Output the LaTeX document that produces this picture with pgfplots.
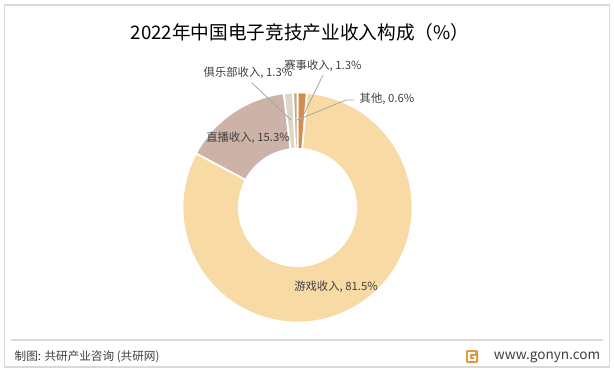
\documentclass[border=0pt]{standalone}
\usepackage{pgfplots}
\usepackage{pgfplotstable}
\pgfplotsset{compat=1.18}
\usepackage{fontspec}
\setmainfont{Noto Sans CJK SC}
\definecolor{cSaishi}{RGB}{214,139,78}
\definecolor{cYouxi}{RGB}{248,218,164}
\definecolor{cZhibo}{RGB}{205,178,167}
\definecolor{cJulebu}{RGB}{222,215,201}
\definecolor{cQita}{RGB}{196,168,140}
\definecolor{lbl}{RGB}{64,64,64}
\definecolor{leader}{RGB}{166,166,166}
\definecolor{frame}{RGB}{217,217,217}

\pgfplotstableread[col sep=comma]{
name,value
赛事收入,1.3
游戏收入,81.5
直播收入,15.3
俱乐部收入,1.3
其他,0.6
}\datatable

\begin{document}
\begin{tikzpicture}
\begin{axis}[
  x=0.75pt, y=0.75pt,
  xmin=0, xmax=614, ymin=0, ymax=372,
  scale only axis, hide axis, clip=false,
]
\fill[white] (axis cs:0,0) rectangle (axis cs:614,372);
\draw[frame, line width=0.9pt] (axis cs:4.5,5) rectangle (axis cs:609.5,367);
\draw[frame, line width=0.9pt] (axis cs:11,32) -- (axis cs:603,32);

\pgfplotsextra{
  \gdef\curang{90}
  \foreach \i/\c in {0/cSaishi,1/cYouxi,2/cZhibo,3/cJulebu,4/cQita}{
    \pgfplotstablegetelem{\i}{value}\of\datatable
    \pgfmathsetmacro\endang{\curang-\pgfplotsretval*3.6}
    \begin{scope}[shift={(axis cs:297.5,164.5)}]
      \fill[\c, draw=white, line width=1.3pt, line join=miter]
        (\curang:86.25pt) arc[start angle=\curang, end angle=\endang, radius=86.25pt]
        -- (\endang:44pt) arc[start angle=\endang, end angle=\curang, radius=44pt]
        -- cycle;
    \end{scope}
    \xdef\curang{\endang}
  }
}

% leader lines
\draw[leader, line width=0.6pt] (axis cs:252,289) -- (axis cs:291,252);
\draw[leader, line width=0.6pt] (axis cs:323,297) -- (axis cs:301,252);
\draw[leader, line width=0.6pt] (axis cs:354,272) -- (axis cs:346,272) -- (axis cs:297,252);

% labels
\node[lbl, font=\fontsize{8.5}{10}\selectfont] at (axis cs:336,85) {游戏收入, 81.5\%};
\node[lbl, font=\fontsize{8.5}{10}\selectfont] at (axis cs:248,234) {直播收入, 15.3\%};
\node[lbl, font=\fontsize{8.5}{10}\selectfont] at (axis cs:248,299) {俱乐部收入, 1.3\%};
\node[lbl, font=\fontsize{8.5}{10}\selectfont] at (axis cs:323,306) {赛事收入, 1.3\%};
\node[lbl, font=\fontsize{8.5}{10}\selectfont, anchor=west] at (axis cs:355,273) {其他, 0.6\%};

% title
\node[black, font=\fontsize{14}{16}\selectfont] at (axis cs:300,340) {2022年中国电子竞技产业收入构成（\%）};

% footer
\node[lbl, anchor=west, font=\fontsize{8.7}{10}\selectfont] at (axis cs:10,15) {制图: 共研产业咨询 (共研网)};
\node[lbl, anchor=east, font=\fontsize{10.2}{12}\selectfont] at (axis cs:605,15) {www.gonyn.com};
\fill[cSaishi!85!yellow, rounded corners=1pt] (axis cs:466,9) rectangle (axis cs:478,22);
\draw[white, line width=1.2pt] (axis cs:475,19) -- (axis cs:469,19) -- (axis cs:469,12) -- (axis cs:475,12) -- (axis cs:475,15.5) -- (axis cs:472,15.5);
\end{axis}
\end{tikzpicture}
\end{document}
